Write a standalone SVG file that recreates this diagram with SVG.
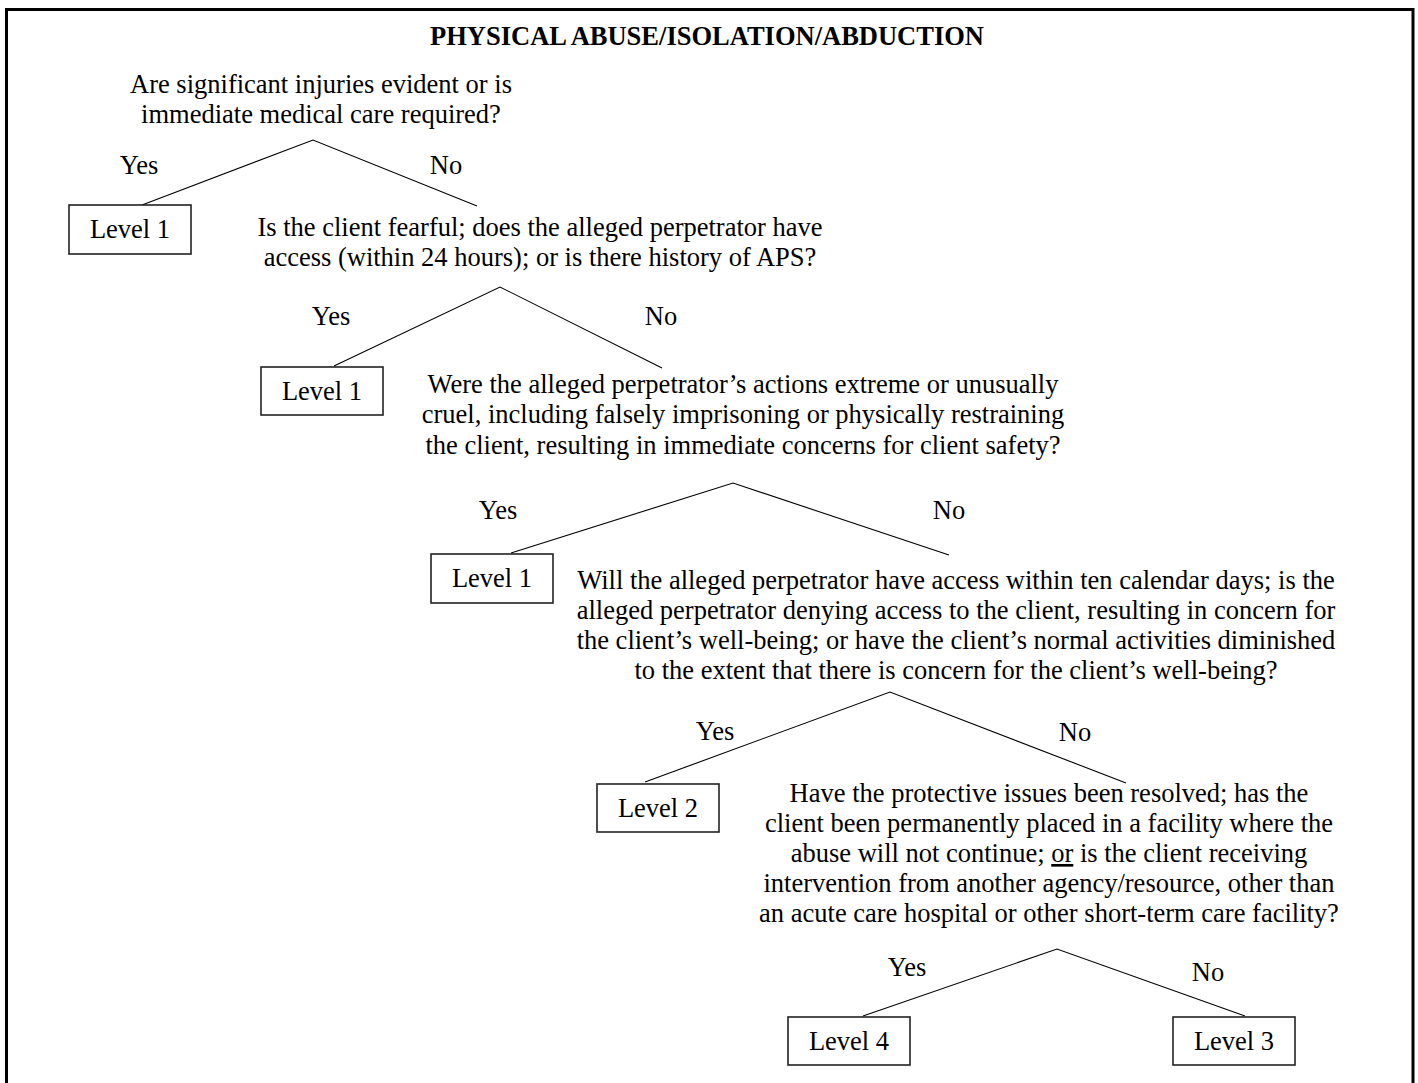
<svg xmlns="http://www.w3.org/2000/svg" width="1418" height="1083" viewBox="0 0 1418 1083">
<style>
text{font-family:"Liberation Serif","Times New Roman",serif;font-size:26.5px;fill:#000;text-anchor:middle}
.title{font-weight:bold}
.box{fill:#fff;stroke:#222;stroke-width:1.6}
.ln{fill:none;stroke:#000;stroke-width:1.1}
</style>
<rect width="1418" height="1083" fill="#fff"/>
<path d="M6.5,1083 V9.5 H1413 V1083" fill="none" stroke="#000" stroke-width="3"/>
<text class="title" x="707" y="45">PHYSICAL ABUSE/ISOLATION/ABDUCTION</text>

<g id="connectors">
<path class="ln" d="M142,205 L313,140 L477,206"/>
<path class="ln" d="M334,366 L500,287 L662,368"/>
<path class="ln" d="M511,553 L733,483 L949,555"/>
<path class="ln" d="M645,782 L890,692 L1126,783"/>
<path class="ln" d="M863,1016 L1057,949 L1245,1016"/>
</g>

<g id="labels">
<text x="139" y="174">Yes</text><text x="446" y="174">No</text>
<text x="331" y="325">Yes</text><text x="661" y="325">No</text>
<text x="498" y="519">Yes</text><text x="949" y="519">No</text>
<text x="715" y="740">Yes</text><text x="1075" y="741">No</text>
<text x="907" y="976">Yes</text><text x="1208" y="981">No</text>
</g>

<g id="q1">
<text x="321" y="93">Are significant injuries evident or is</text>
<text x="321" y="123">immediate medical care required?</text>
</g>
<g id="q2">
<text x="540" y="236">Is the client fearful; does the alleged perpetrator have</text>
<text x="540" y="266">access (within 24 hours); or is there history of APS?</text>
</g>
<g id="q3">
<text x="743" y="393">Were the alleged perpetrator’s actions extreme or unusually</text>
<text x="743" y="423">cruel, including falsely imprisoning or physically restraining</text>
<text x="743" y="454">the client, resulting in immediate concerns for client safety?</text>
</g>
<g id="q4">
<text x="956" y="589">Will the alleged perpetrator have access within ten calendar days; is the</text>
<text x="956" y="619">alleged perpetrator denying access to the client, resulting in concern for</text>
<text x="956" y="649">the client’s well-being; or have the client’s normal activities diminished</text>
<text x="956" y="679">to the extent that there is concern for the client’s well-being?</text>
</g>
<g id="q5">
<text x="1049" y="802">Have the protective issues been resolved; has the</text>
<text x="1049" y="832">client been permanently placed in a facility where the</text>
<text x="1049" y="862">abuse will not continue; <tspan text-decoration="underline">or</tspan> is the client receiving</text>
<text x="1049" y="892">intervention from another agency/resource, other than</text>
<text x="1049" y="922">an acute care hospital or other short-term care facility?</text>
</g>

<g id="b1"><rect class="box" x="69" y="205" width="122" height="49"/><text x="130" y="238">Level 1</text></g>
<g id="b2"><rect class="box" x="261" y="367" width="122" height="48"/><text x="322" y="400">Level 1</text></g>
<g id="b3"><rect class="box" x="431" y="554" width="122" height="49"/><text x="492" y="587">Level 1</text></g>
<g id="b4"><rect class="box" x="597" y="784" width="122" height="48"/><text x="658" y="817">Level 2</text></g>
<g id="b5"><rect class="box" x="788" y="1017" width="122" height="48"/><text x="849" y="1050">Level 4</text></g>
<g id="b6"><rect class="box" x="1173" y="1017" width="122" height="48"/><text x="1234" y="1050">Level 3</text></g>
</svg>
